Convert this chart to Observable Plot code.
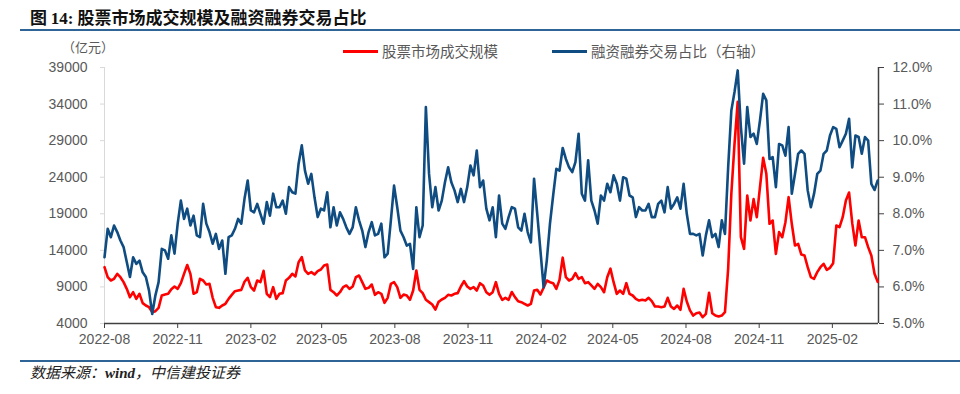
<!DOCTYPE html>
<html>
<head>
<meta charset="utf-8">
<script src="https://cdn.jsdelivr.net/npm/d3@7"></script>
<script src="https://cdn.jsdelivr.net/npm/@observablehq/plot@0.6"></script>
<style>
  html, body { margin: 0; padding: 0; background: #fff; }
  #page { position: relative; width: 960px; height: 394px; overflow: hidden; background: #fff; }
  .abs { position: absolute; white-space: nowrap; }
  #title { left: 30px; top: 5px; font: bold 17px "Noto Sans CJK SC", sans-serif; color: #111; line-height: 24px; }
  #title .num { font-family: "Liberation Serif", serif; font-weight: bold; }
  .rule { position: absolute; left: 20px; right: 0; height: 2px; background: #2e6496; }
  #unit { left: 62px; top: 38px; font: 13px "Noto Sans CJK SC", sans-serif; color: #595959; line-height: 18px; }
  .leg { top: 42px; font: 14.5px "Noto Sans CJK SC", sans-serif; color: #595959; line-height: 18px; display: flex; align-items: center; }
  .sw { display: inline-block; width: 35px; height: 3px; margin-right: 4px; }
  #chart { position: absolute; left: 0; top: 32px; }
  #source { left: 30px; top: 362px; font: italic 15px "Noto Sans CJK SC", sans-serif; color: #222; line-height: 20px; }
  #source b { font-family: "Liberation Serif", serif; }
</style>
</head>
<body>
<div id="page">
  <div id="title" class="abs">图 <span class="num">14:</span> 股票市场成交规模及融资融券交易占比</div>
  <div class="rule" style="top:29px"></div>
  <div id="unit" class="abs">（亿元）</div>
  <div class="abs leg" style="left:343px"><span class="sw" style="background:#ff0000"></span>股票市场成交规模</div>
  <div class="abs leg" style="left:552px"><span class="sw" style="background:#0f4c81"></span>融资融券交易占比（右轴）</div>
  <div id="chart"></div>
  <div class="rule" style="top:360px"></div>
  <div id="source" class="abs">数据来源：<b>wind</b>，中信建投证券</div>
</div>
<script>
// Sampling: one reading every 4 calendar days starting 2022-08-01
const startDate = Date.UTC(2022, 7, 1);
const stepDays = 4;

// 股票市场成交规模 (亿元), left axis
const turnover = [
11700,10330,9880,10110,10790,10330,9650,8740,7600,8280,
7370,8060,6780,6460,6230,5550,5690,6140,7830,7960,
8060,8690,9060,8740,9510,10790,12000,10790,8060,8280,
10110,9880,9330,9420,7510,6230,6140,6460,6690,7370,
7920,8420,8510,8600,9700,10240,8970,8510,9880,9650,
11200,8060,7600,8970,7370,8060,8150,9880,10240,10790,
10430,12380,13070,11250,10790,11020,10700,11150,11380,11930,
12070,8600,8280,7830,8280,8970,9200,8740,9060,10330,
10560,9650,8740,8880,9330,7920,8280,8060,6830,7510,
9420,9650,8970,7510,7960,7830,7240,8510,11250,8600,
8150,7240,6920,6600,5900,6960,7280,7510,7920,7830,
8060,8150,9060,9790,9060,8740,8970,8510,9510,9200,
8280,7920,8280,9650,8060,7240,7510,7240,8300,7600,
7050,6920,6690,6460,6690,8510,8600,7960,8880,9880,
9650,9510,8740,9970,13000,10330,9880,10110,10880,10110,
10330,9510,9650,9200,8740,9420,8970,8280,10330,11500,
9650,8060,8510,8060,9510,8060,7830,7370,7140,7240,
7140,7510,7050,6320,6320,6230,6320,7510,6320,6000,
6460,5870,8740,7000,5800,5090,5410,5500,4870,5320,
8200,5410,5090,4960,5090,5550,11470,21730,28560,34300,
15800,14210,21500,18080,21000,18540,22640,26650,24460,17630,
18080,13520,16490,15800,17850,21270,17630,14660,14890,13430,
13300,11700,10330,10110,11020,11700,12160,11340,11610,12250,
17400,17170,18540,20820,21900,17720,14660,18080,15800,15800,
14440,13300,10790,9700
];

// 融资融券交易占比 (%), right axis
const marginShare = [
6.81,7.59,7.36,7.68,7.50,7.27,7.09,6.68,6.27,6.81,
6.63,6.72,6.40,6.27,5.90,5.26,5.77,6.13,7.04,7.00,
6.77,7.41,6.91,7.73,8.36,7.86,8.14,7.68,7.95,7.41,
7.36,8.27,7.73,7.50,7.18,7.45,7.04,7.27,6.36,7.36,
7.41,7.59,7.86,7.73,8.41,8.91,8.09,8.04,8.27,8.00,
7.73,8.32,7.95,8.55,8.18,8.18,8.36,8.00,8.73,8.59,
8.55,9.37,9.87,9.18,8.82,9.09,8.45,7.91,8.14,8.09,
8.59,7.63,8.18,7.68,8.04,7.86,7.63,7.45,7.63,8.18,
7.82,7.54,7.09,7.50,7.77,7.41,7.45,7.73,6.81,6.91,
7.82,8.77,8.18,7.54,7.36,7.13,7.18,6.49,8.18,7.36,
7.68,10.92,9.09,8.18,8.73,8.09,8.36,8.86,9.27,8.86,
8.64,8.32,8.68,8.32,8.73,9.32,9.05,9.73,8.73,8.91,
8.14,7.82,8.18,7.36,8.50,7.73,7.59,7.91,8.18,8.14,
7.63,7.54,8.00,7.50,7.22,8.96,8.00,7.00,5.99,6.72,
7.73,8.50,9.23,9.18,9.80,9.50,9.27,9.14,9.41,10.19,
8.55,8.36,9.46,8.36,8.09,7.73,8.50,8.36,8.82,8.59,
9.05,8.82,8.36,9.00,8.96,8.50,8.45,7.91,8.18,8.09,
8.09,8.27,7.91,7.91,8.27,8.36,8.04,8.73,8.14,8.27,
8.45,8.14,8.82,8.00,7.45,7.45,7.41,7.45,6.86,7.41,
7.82,7.36,7.45,7.09,7.82,7.45,9.27,10.82,11.33,11.92,
10.37,9.37,10.92,10.10,10.19,9.91,10.55,11.28,11.10,9.50,
9.55,8.73,9.91,9.87,9.59,10.37,8.55,9.09,9.64,9.73,
9.64,8.64,8.18,8.55,9.09,9.18,9.64,9.73,10.14,10.37,
10.32,9.82,10.00,10.19,10.60,9.27,10.14,10.10,9.64,10.10,
10.00,8.82,8.65,8.91
];

// Axis ticks
const leftTicks = [4000, 9000, 14000, 19000, 24000, 29000, 34000, 39000];
const rightTicks = [5, 6, 7, 8, 9, 10, 11, 12];
const xTickLabels = ["2022-08","2022-11","2023-02","2023-05","2023-08","2023-11","2024-02","2024-05","2024-08","2024-11","2025-02"];
const xDomain = ["2022-08-01", "2025-03-31"];

// right-axis (%) mapped onto left scale: 5% -> 4000, 12% -> 39000
const pctToLeft = p => leftTicks[0] + (p - rightTicks[0]) * (leftTicks[leftTicks.length-1] - leftTicks[0]) / (rightTicks[rightTicks.length-1] - rightTicks[0]);
const leftToPct = v => rightTicks[0] + (v - leftTicks[0]) * (rightTicks[rightTicks.length-1] - rightTicks[0]) / (leftTicks[leftTicks.length-1] - leftTicks[0]);

const dateOf = i => new Date(startDate + i * stepDays * 86400000);
const redRows = turnover.map((v, i) => ({date: dateOf(i), value: v}));
const blueRows = marginShare.map((p, i) => ({date: dateOf(i), value: pctToLeft(p)}));
const xTicks = xTickLabels.map(s => new Date(s + "-01T00:00:00Z"));
const x0 = new Date(xDomain[0] + "T00:00:00Z"), x1 = new Date(xDomain[1] + "T00:00:00Z");

const chart = Plot.plot({
  width: 960,
  height: 325,
  marginLeft: 104,
  marginRight: 82,
  marginTop: 35,
  marginBottom: 34,
  style: {fontSize: "14px", fontFamily: "'Liberation Sans', Arial, sans-serif", color: "#595959", background: "transparent"},
  x: {type: "utc", domain: [x0, x1]},
  y: {domain: [leftTicks[0], leftTicks[leftTicks.length-1]]},
  marks: [
    Plot.ruleX([x0], {stroke: "#d9d9d9", strokeWidth: 1}),
    Plot.axisY({anchor: "left", ticks: leftTicks, tickFormat: d => String(d), tickSize: 4, tickPadding: 13, stroke: "#d9d9d9", fill: "#595959", label: null}),
    Plot.axisY({anchor: "right", ticks: leftTicks, tickFormat: v => leftToPct(v).toFixed(1) + "%", tickSize: 5, tickPadding: 9, stroke: "#404040", fill: "#595959", label: null}),
    Plot.axisX({ticks: xTicks, tickFormat: d3.utcFormat("%Y-%m"), tickSize: 5, tickPadding: 6, stroke: "#404040", fill: "#595959", label: null}),
    Plot.ruleX([x1], {stroke: "#404040", strokeWidth: 1.5}),
    Plot.ruleY([leftTicks[0]], {stroke: "#404040", strokeWidth: 1.5}),
    Plot.line(redRows, {x: "date", y: "value", stroke: "#ff0000", strokeWidth: 2.6, strokeLinejoin: "round"}),
    Plot.line(blueRows, {x: "date", y: "value", stroke: "#0f4c81", strokeWidth: 2.6, strokeLinejoin: "round"})
  ]
});
document.getElementById("chart").appendChild(chart);
</script>
</body>
</html>
